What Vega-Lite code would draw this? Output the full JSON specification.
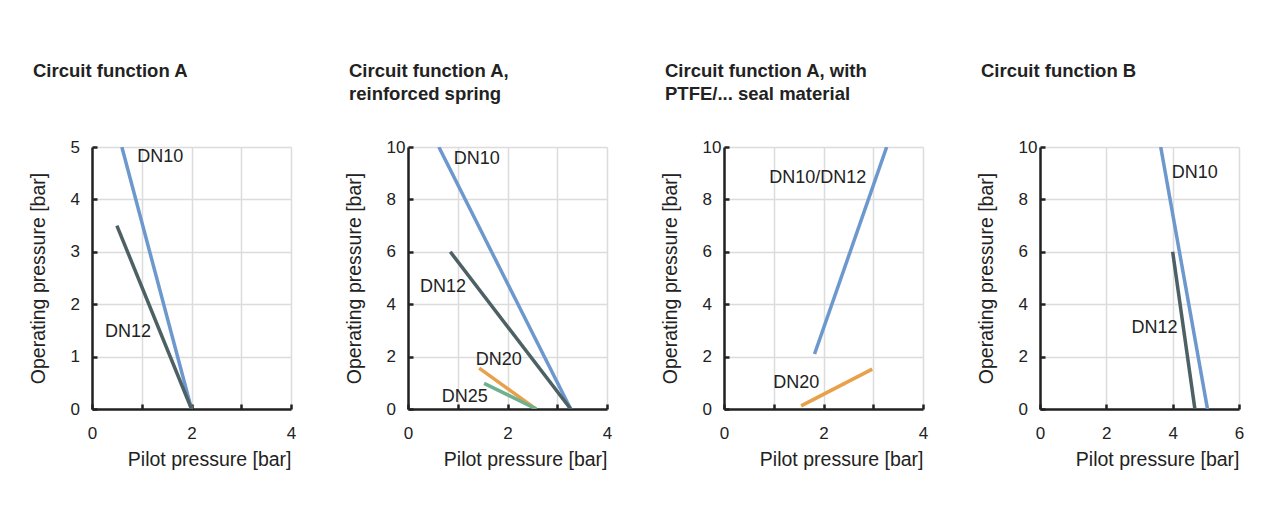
{
  "$schema": "https://vega.github.io/schema/vega-lite/v6.json",
  "padding": {"left": 28, "top": 61, "right": 5, "bottom": 5},
  "background": "white",
  "datasets": {
    "lines": [
      {"panel": 1, "series": "DN10", "x": 0.6, "y": 5},
      {"panel": 1, "series": "DN10", "x": 2.0, "y": 0},
      {"panel": 1, "series": "DN12", "x": 0.5, "y": 3.5},
      {"panel": 1, "series": "DN12", "x": 2.0, "y": 0},
      {"panel": 2, "series": "DN10", "x": 0.62, "y": 10},
      {"panel": 2, "series": "DN10", "x": 3.27, "y": 0},
      {"panel": 2, "series": "DN12", "x": 0.85, "y": 6},
      {"panel": 2, "series": "DN12", "x": 3.27, "y": 0},
      {"panel": 2, "series": "DN20", "x": 1.43, "y": 1.56},
      {"panel": 2, "series": "DN20", "x": 2.57, "y": 0},
      {"panel": 2, "series": "DN25", "x": 1.53, "y": 0.98},
      {"panel": 2, "series": "DN25", "x": 2.58, "y": 0},
      {"panel": 3, "series": "DN10/DN12", "x": 1.82, "y": 2.1},
      {"panel": 3, "series": "DN10/DN12", "x": 3.27, "y": 10},
      {"panel": 3, "series": "DN20", "x": 1.55, "y": 0.12},
      {"panel": 3, "series": "DN20", "x": 2.98, "y": 1.52},
      {"panel": 4, "series": "DN10", "x": 3.64, "y": 10},
      {"panel": 4, "series": "DN10", "x": 5.05, "y": 0},
      {"panel": 4, "series": "DN12", "x": 4.0, "y": 6},
      {"panel": 4, "series": "DN12", "x": 4.67, "y": 0}
    ],
    "labels": [
      {"panel": 1, "label": "DN10", "x": 0.91, "y": 4.81},
      {"panel": 1, "label": "DN12", "x": 0.26, "y": 1.47},
      {"panel": 2, "label": "DN10", "x": 0.92, "y": 9.54},
      {"panel": 2, "label": "DN12", "x": 0.24, "y": 4.64},
      {"panel": 2, "label": "DN20", "x": 1.36, "y": 1.88},
      {"panel": 2, "label": "DN25", "x": 0.68, "y": 0.47},
      {"panel": 3, "label": "DN10/DN12", "x": 0.91, "y": 8.82},
      {"panel": 3, "label": "DN20", "x": 0.99, "y": 0.98},
      {"panel": 4, "label": "DN10", "x": 3.97, "y": 9.02},
      {"panel": 4, "label": "DN12", "x": 2.76, "y": 3.1}
    ]
  },
  "bounds": "flush",
  "spacing": 117,
  "hconcat": [
    {
      "width": 199, "height": 262,
      "title": {"text": "Circuit function A", "offset": 58},
      "layer": [
        {
          "data": {"name": "lines"},
          "transform": [{"filter": "datum.panel == 1"}],
          "mark": {"type": "line", "strokeWidth": 3.5, "clip": true},
          "encoding": {
            "x": {"field": "x", "type": "quantitative", "scale": {"domain": [0, 4], "nice": false},
                  "axis": {"title": "Pilot pressure [bar]", "values": [0, 1, 2, 3, 4], "labelExpr": "datum.value % 2 == 0 ? datum.label : ''"}},
            "y": {"field": "y", "type": "quantitative", "scale": {"domain": [0, 5], "nice": false},
                  "axis": {"title": "Operating pressure [bar]", "values": [0, 1, 2, 3, 4, 5]}},
            "color": {"field": "series", "type": "nominal", "legend": null,
                      "scale": {"domain": ["DN10", "DN12", "DN20", "DN25", "DN10/DN12"], "range": ["#6C98CE", "#4D6064", "#E8A04A", "#6FB091", "#6C98CE"]}},
            "detail": {"field": "series"}
          }
        },
        {
          "data": {"name": "labels"},
          "transform": [{"filter": "datum.panel == 1"}],
          "mark": {"type": "text", "align": "left", "baseline": "middle", "font": "Liberation Sans", "fontSize": 18, "color": "#222"},
          "encoding": {
            "x": {"field": "x", "type": "quantitative"},
            "y": {"field": "y", "type": "quantitative"},
            "text": {"field": "label"}
          }
        }
      ]
    },
    {
      "width": 199, "height": 262,
      "title": {"text": ["Circuit function A,", "reinforced spring"], "offset": 35},
      "layer": [
        {
          "data": {"name": "lines"},
          "transform": [{"filter": "datum.panel == 2"}],
          "mark": {"type": "line", "strokeWidth": 3.5, "clip": true},
          "encoding": {
            "x": {"field": "x", "type": "quantitative", "scale": {"domain": [0, 4], "nice": false},
                  "axis": {"title": "Pilot pressure [bar]", "values": [0, 1, 2, 3, 4], "labelExpr": "datum.value % 2 == 0 ? datum.label : ''"}},
            "y": {"field": "y", "type": "quantitative", "scale": {"domain": [0, 10], "nice": false},
                  "axis": {"title": "Operating pressure [bar]", "values": [0, 2, 4, 6, 8, 10]}},
            "color": {"field": "series", "type": "nominal", "legend": null,
                      "scale": {"domain": ["DN10", "DN12", "DN20", "DN25", "DN10/DN12"], "range": ["#6C98CE", "#4D6064", "#E8A04A", "#6FB091", "#6C98CE"]}},
            "detail": {"field": "series"}
          }
        },
        {
          "data": {"name": "labels"},
          "transform": [{"filter": "datum.panel == 2"}],
          "mark": {"type": "text", "align": "left", "baseline": "middle", "font": "Liberation Sans", "fontSize": 18, "color": "#222"},
          "encoding": {
            "x": {"field": "x", "type": "quantitative"},
            "y": {"field": "y", "type": "quantitative"},
            "text": {"field": "label"}
          }
        }
      ]
    },
    {
      "width": 199, "height": 262,
      "title": {"text": ["Circuit function A, with", "PTFE/... seal material"], "offset": 35},
      "layer": [
        {
          "data": {"name": "lines"},
          "transform": [{"filter": "datum.panel == 3"}],
          "mark": {"type": "line", "strokeWidth": 3.5, "clip": true},
          "encoding": {
            "x": {"field": "x", "type": "quantitative", "scale": {"domain": [0, 4], "nice": false},
                  "axis": {"title": "Pilot pressure [bar]", "values": [0, 1, 2, 3, 4], "labelExpr": "datum.value % 2 == 0 ? datum.label : ''"}},
            "y": {"field": "y", "type": "quantitative", "scale": {"domain": [0, 10], "nice": false},
                  "axis": {"title": "Operating pressure [bar]", "values": [0, 2, 4, 6, 8, 10]}},
            "color": {"field": "series", "type": "nominal", "legend": null,
                      "scale": {"domain": ["DN10", "DN12", "DN20", "DN25", "DN10/DN12"], "range": ["#6C98CE", "#4D6064", "#E8A04A", "#6FB091", "#6C98CE"]}},
            "detail": {"field": "series"}
          }
        },
        {
          "data": {"name": "labels"},
          "transform": [{"filter": "datum.panel == 3"}],
          "mark": {"type": "text", "align": "left", "baseline": "middle", "font": "Liberation Sans", "fontSize": 18, "color": "#222"},
          "encoding": {
            "x": {"field": "x", "type": "quantitative"},
            "y": {"field": "y", "type": "quantitative"},
            "text": {"field": "label"}
          }
        }
      ]
    },
    {
      "width": 199, "height": 262,
      "title": {"text": "Circuit function B", "offset": 58},
      "layer": [
        {
          "data": {"name": "lines"},
          "transform": [{"filter": "datum.panel == 4"}],
          "mark": {"type": "line", "strokeWidth": 3.5, "clip": true},
          "encoding": {
            "x": {"field": "x", "type": "quantitative", "scale": {"domain": [0, 6], "nice": false},
                  "axis": {"title": "Pilot pressure [bar]", "values": [0, 2, 4, 6]}},
            "y": {"field": "y", "type": "quantitative", "scale": {"domain": [0, 10], "nice": false},
                  "axis": {"title": "Operating pressure [bar]", "values": [0, 2, 4, 6, 8, 10]}},
            "color": {"field": "series", "type": "nominal", "legend": null,
                      "scale": {"domain": ["DN10", "DN12", "DN20", "DN25", "DN10/DN12"], "range": ["#6C98CE", "#4D6064", "#E8A04A", "#6FB091", "#6C98CE"]}},
            "detail": {"field": "series"}
          }
        },
        {
          "data": {"name": "labels"},
          "transform": [{"filter": "datum.panel == 4"}],
          "mark": {"type": "text", "align": "left", "baseline": "middle", "font": "Liberation Sans", "fontSize": 18, "color": "#222"},
          "encoding": {
            "x": {"field": "x", "type": "quantitative"},
            "y": {"field": "y", "type": "quantitative"},
            "text": {"field": "label"}
          }
        }
      ]
    }
  ],
  "config": {
    "view": {"stroke": null},
    "font": "Liberation Sans",
    "title": {"anchor": "start", "frame": "bounds", "dx": 5, "font": "Liberation Sans", "fontSize": 18.5, "fontWeight": "bold", "color": "#222", "lineHeight": 23},
    "axis": {
      "domainColor": "#222", "domainWidth": 2.5,
      "tickColor": "#222", "tickWidth": 2.5, "tickSize": -5,
      "gridColor": "#dcdcdc", "gridWidth": 1.5,
      "labelFont": "Liberation Sans", "labelFontSize": 17, "labelColor": "#222",
      "titleFont": "Liberation Sans", "titleFontSize": 19.5, "titleFontWeight": "normal", "titleColor": "#222"
    },
    "axisX": {"labelPadding": 21, "titleAnchor": "end", "titlePadding": 9, "labelFlush": false},
    "axisY": {"labelAlign": "left", "labelPadding": 27, "minExtent": 22, "maxExtent": 22, "titlePadding": 22}
  }
}
